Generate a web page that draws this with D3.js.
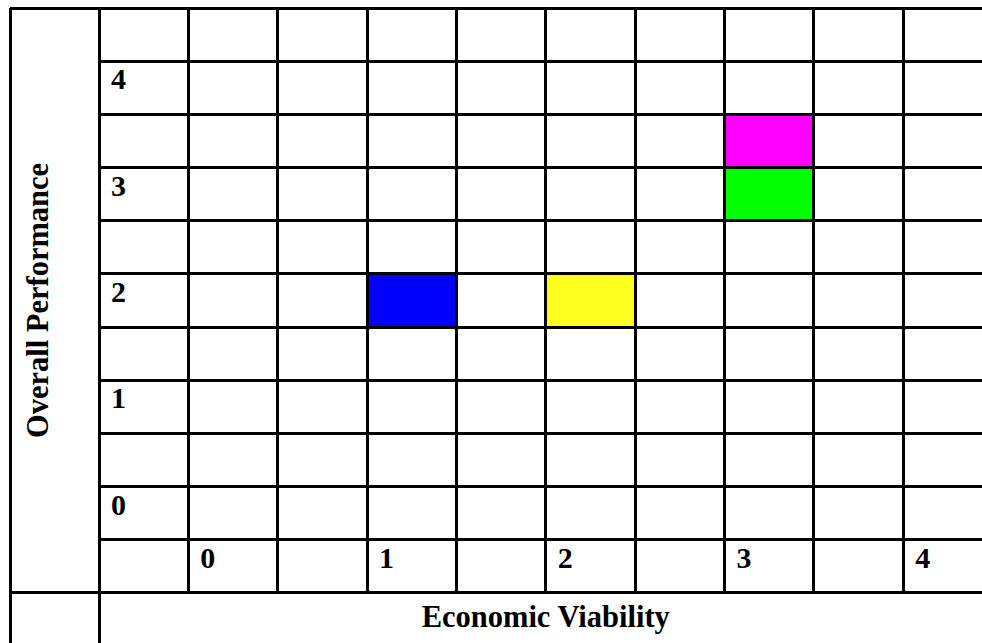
<!DOCTYPE html>
<html>
<head>
<meta charset="utf-8">
<script src="https://cdn.jsdelivr.net/npm/d3@7"></script>
<style>
  html, body { margin: 0; padding: 0; background: #fff; }
  svg { display: block; }
  text { font-family: "Liberation Serif", "Times New Roman", serif; font-weight: bold; fill: #000; }
</style>
</head>
<body>
<script>
// Grid positions on each axis (cells every half unit)
const xTickLabels = [0, 1, 2, 3, 4];
const yTickLabels = [0, 1, 2, 3, 4];
const xTitle = "Economic Viability";
const yTitle = "Overall Performance";

// Highlighted cells: economic viability, overall performance, fill colour
const cellX = [1, 2, 3, 3];
const cellY = [2, 2, 3, 3.5];
const cellColor = ["#0000ff", "#ffff1f", "#00ff00", "#ff00ff"];

const W = 982, H = 643;
const step = 0.5;
const stroke = 3;

const svg = d3.select("body").append("svg")
  .attr("width", W).attr("height", H);

// Column left edges: value v -> left edge of its cell
const x = d3.scaleLinear().domain([0, 4.5]).range([188.3, 992.5]);
// Row top edges: value v -> top edge of its cell
const y = d3.scaleLinear().domain([4.5, 0]).range([8, 486.6]);

const colW = x(step) - x(0);
const rowH = y(0) - y(step);

const outerLeft = 10;
const labelColLeft = 99;
const xLabelRowTop = y(-step);
const titleRowTop = y(-2 * step);
const bottom = y(-3 * step);

// Filled cells
svg.append("g").selectAll("rect")
  .data(cellX.map((v, i) => ({ x: v, y: cellY[i], c: cellColor[i] })))
  .join("rect")
  .attr("x", d => x(d.x))
  .attr("y", d => y(d.y))
  .attr("width", colW)
  .attr("height", rowH)
  .attr("fill", d => d.c);

const lines = svg.append("g")
  .attr("stroke", "#000")
  .attr("stroke-width", stroke)
  .attr("shape-rendering", "crispEdges");

// Horizontal rules between value rows
const rowEdges = d3.range(4, -step, -step).concat([-step]);
lines.selectAll("line.h")
  .data(rowEdges)
  .join("line")
  .attr("class", "h")
  .attr("x1", labelColLeft).attr("x2", W)
  .attr("y1", d => y(d)).attr("y2", d => y(d));

// Top border and the rule above the title row span the whole table
lines.selectAll("line.hf")
  .data([y(4.5), titleRowTop, bottom])
  .join("line")
  .attr("class", "hf")
  .attr("x1", outerLeft).attr("x2", W)
  .attr("y1", d => d).attr("y2", d => d);

// Vertical rules between value columns
const colEdges = d3.range(0, 4.5 + step / 2, step);
lines.selectAll("line.v")
  .data(colEdges)
  .join("line")
  .attr("class", "v")
  .attr("x1", d => x(d)).attr("x2", d => x(d))
  .attr("y1", y(4.5)).attr("y2", titleRowTop);

// Outer left border and label column border run to the bottom
lines.selectAll("line.vf")
  .data([outerLeft, labelColLeft])
  .join("line")
  .attr("class", "vf")
  .attr("x1", d => d).attr("x2", d => d)
  .attr("y1", y(4.5)).attr("y2", bottom);

const fs = 30;
const titleFs = 30.5;
const pad = 12;
const baseOff = 28;

// Y tick labels in the label column
svg.append("g").selectAll("text")
  .data(yTickLabels)
  .join("text")
  .attr("x", labelColLeft + pad)
  .attr("y", d => y(d) + baseOff)
  .attr("font-size", fs)
  .text(d => d);

// X tick labels in the bottom value row
svg.append("g").selectAll("text")
  .data(xTickLabels)
  .join("text")
  .attr("x", d => x(d) + pad)
  .attr("y", xLabelRowTop + baseOff)
  .attr("font-size", fs)
  .text(d => d);

// Axis titles
svg.append("text")
  .attr("x", (labelColLeft + x(4.5)) / 2)
  .attr("y", titleRowTop + 34)
  .attr("text-anchor", "middle")
  .attr("font-size", titleFs)
  .text(xTitle);

svg.append("text")
  .attr("transform", `translate(48, ${(y(4.5) + titleRowTop) / 2}) rotate(-90)`)
  .attr("text-anchor", "middle")
  .attr("font-size", titleFs)
  .text(yTitle);
</script>
</body>
</html>
